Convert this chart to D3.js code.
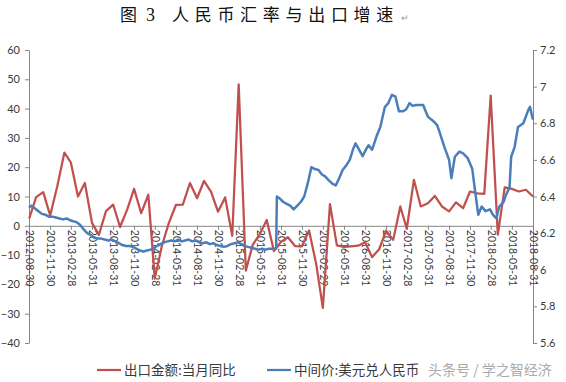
<!DOCTYPE html>
<html><head><meta charset="utf-8">
<script src="https://cdn.jsdelivr.net/npm/d3@7"></script>
<style>
html,body{margin:0;padding:0;background:#fff;}
svg{display:block;}
</style></head>
<body>
<svg id="c" width="566" height="382"></svg>
<script>
// ---------- DATA ----------
const titleParts = ["图", "3", "人民币汇率与出口增速"];
const seriesNames = ["出口金额:当月同比", "中间价:美元兑人民币"];
const watermark = "头条号 / 学之智经济";

// monthly export YoY (%), Aug 2012 .. Aug 2018 (month ends)
const exportStart = "2012-08";
const exportYoY = [
  2.5, 9.8, 11.5, 3.5, 13.5,
  25.0, 21.6, 10.0, 14.6, 1.0, -3.1, 5.0, 7.2, -0.4, 5.5, 12.6, 4.3,
  10.6, -18.0, -6.8, 0.9, 7.1, 7.2, 14.6, 9.4, 15.3, 11.6, 4.8, 9.7,
  -3.4, 48.3, -15.3, -6.5, -2.8, 2.0, -8.6, -5.5, -3.9, -6.9, -7.0, -1.6,
  -13.0, -28.0, 7.4, -6.7, -7.2, -7.0, -6.8, -5.6, -10.7, -8.0, -1.7, -4.8,
  6.6, -1.0, 15.7, 6.6, 7.7, 10.2, 6.6, 4.9, 8.0, 6.0, 11.7, 11.1,
  10.9, 44.4, -3.0, 13.1, 12.6, 11.7, 12.3, 10.0
];

// USD/CNY central parity
const fxDates = [
  "2012-08-30","2012-09-10","2012-09-25","2012-10-10","2012-10-25","2012-11-10","2012-11-25","2012-12-10","2012-12-25",
  "2013-01-10","2013-01-25","2013-02-10","2013-02-25","2013-03-10","2013-03-25","2013-04-10","2013-04-25","2013-05-10","2013-05-25",
  "2013-06-10","2013-06-25","2013-07-10","2013-07-25","2013-08-10","2013-08-25","2013-09-10","2013-09-25","2013-10-10","2013-10-25",
  "2013-11-10","2013-11-25","2013-12-10","2013-12-25",
  "2014-01-10","2014-01-25","2014-02-10","2014-02-25","2014-03-10","2014-03-25","2014-04-10","2014-04-25","2014-05-10","2014-05-25",
  "2014-06-10","2014-06-25","2014-07-10","2014-07-25","2014-08-10","2014-08-25","2014-09-10","2014-09-25","2014-10-10","2014-10-25",
  "2014-11-10","2014-11-25","2014-12-10","2014-12-25",
  "2015-01-10","2015-01-25","2015-02-10","2015-02-25","2015-03-10","2015-03-25","2015-04-10","2015-04-25","2015-05-10","2015-05-25",
  "2015-06-10","2015-06-25","2015-07-10","2015-07-25","2015-08-10","2015-08-13","2015-08-25","2015-09-10","2015-09-25","2015-10-10",
  "2015-10-25","2015-11-10","2015-11-25","2015-12-10","2015-12-25",
  "2016-01-10","2016-01-25","2016-02-10","2016-02-25","2016-03-10","2016-03-25","2016-04-10","2016-04-25","2016-05-10","2016-05-25",
  "2016-06-10","2016-06-25","2016-07-10","2016-07-20","2016-08-05","2016-08-20","2016-09-05","2016-09-15","2016-09-30","2016-10-20",
  "2016-11-05","2016-11-25","2016-12-10","2016-12-25",
  "2017-01-10","2017-01-25","2017-02-10","2017-02-25","2017-03-12","2017-03-25","2017-04-10","2017-04-25","2017-05-10","2017-05-31",
  "2017-06-15","2017-06-25","2017-07-10","2017-07-20","2017-08-10","2017-08-31","2017-09-10","2017-09-25","2017-10-15","2017-10-31",
  "2017-11-20","2017-12-10","2017-12-20",
  "2018-01-05","2018-01-20","2018-02-05","2018-02-25","2018-03-10","2018-03-25","2018-04-06","2018-04-25","2018-05-06","2018-05-21",
  "2018-05-28","2018-06-12","2018-06-27","2018-07-20","2018-08-10","2018-08-18","2018-08-25","2018-08-31"
];
const fxValues = [
  6.34,6.35,6.335,6.32,6.305,6.30,6.29,6.29,6.285,
  6.28,6.275,6.28,6.27,6.265,6.26,6.245,6.22,6.20,6.19,
  6.175,6.17,6.17,6.165,6.16,6.165,6.155,6.145,6.135,6.13,
  6.13,6.125,6.115,6.105,
  6.10,6.105,6.11,6.12,6.13,6.14,6.15,6.155,6.16,6.155,
  6.165,6.155,6.16,6.165,6.155,6.16,6.15,6.145,6.15,6.14,
  6.145,6.135,6.13,6.125,
  6.13,6.14,6.145,6.15,6.14,6.13,6.125,6.12,6.115,6.11,
  6.115,6.11,6.115,6.115,6.116,6.40,6.39,6.37,6.36,6.35,
  6.33,6.35,6.37,6.40,6.47,
  6.56,6.55,6.545,6.52,6.51,6.49,6.47,6.46,6.50,6.545,
  6.57,6.60,6.66,6.69,6.655,6.62,6.66,6.68,6.655,6.73,
  6.78,6.89,6.91,6.955,
  6.945,6.865,6.865,6.875,6.91,6.895,6.90,6.90,6.90,6.836,
  6.82,6.81,6.79,6.754,6.672,6.60,6.50,6.617,6.645,6.636,
  6.61,6.55,6.45,
  6.30,6.345,6.32,6.33,6.30,6.281,6.345,6.37,6.41,6.45,
  6.617,6.67,6.78,6.80,6.87,6.89,6.85,6.82
];

const leftTicks = [-40,-30,-20,-10,0,10,20,30,40,50,60];
const rightTicks = [5.6,5.8,6.0,6.2,6.4,6.6,6.8,7.0,7.2];
const rightTickLabels = ["5.6","5.8","6","6.2","6.4","6.6","6.8","7","7.2"];
const xTickLabels = [
  "2012-08-30","2012-11-30","2013-02-28","2013-05-31","2013-08-31","2013-11-30","2014-02-28","2014-05-31",
  "2014-08-31","2014-11-30","2015-02-28","2015-05-31","2015-08-31","2015-11-30","2016-02-29","2016-05-31",
  "2016-08-31","2016-11-30","2017-02-28","2017-05-31","2017-08-31","2017-11-30","2018-02-28","2018-05-31","2018-08-31"
];

// ---------- CHART ----------
const parse = d3.utcParse("%Y-%m-%d");
const svg = d3.select("#c");
const font = "Lato, 'Open Sans', sans-serif";
const cjk = "'Noto Sans CJK SC', sans-serif";
const axisColor = "#868686";
const textColor = "#3a3a3a";

const x = d3.scaleUtc()
  .domain([parse(xTickLabels[0]), parse(xTickLabels[xTickLabels.length-1])])
  .range([29, 533]);
const yL = d3.scaleLinear().domain([-40, 60]).range([343, 50]);
const yR = d3.scaleLinear().domain([5.6, 7.2]).range([343, 50]);

// export series dates: month ends
const m0 = d3.utcParse("%Y-%m")(exportStart);
const exportData = exportYoY.map((v, i) => ({
  date: d3.utcDay.offset(d3.utcMonth.offset(m0, i + 1), -1), v
}));
const fxData = fxDates.map((d, i) => ({date: parse(d), v: fxValues[i]}));

// title
const title = svg.append("g")
  .attr("font-family", cjk).attr("font-size", 17).attr("fill", "#111");
title.append("text").attr("x", 120).attr("y", 21).text(titleParts[0]);
title.append("text").attr("x", 146).attr("y", 21).attr("font-family", "'Liberation Serif', serif").attr("font-size", 18).text(titleParts[1]);
title.append("text").attr("x", 172).attr("y", 21).attr("letter-spacing", "5.7px").text(titleParts[2]);
title.append("text").attr("x", 401).attr("y", 21).attr("font-size", 9).attr("fill", "#999").text("↵");

// axes
function styleAxis(g) {
  g.selectAll("path.domain").attr("stroke", axisColor);
  g.selectAll(".tick line").attr("stroke", axisColor);
  g.selectAll(".tick text").attr("fill", textColor).attr("font-family", font).attr("font-size", 11);
}

const gL = svg.append("g").attr("transform", "translate(29,0)")
  .call(d3.axisLeft(yL).tickValues(leftTicks).tickSize(4).tickSizeOuter(0).tickPadding(5));
styleAxis(gL);

const gR = svg.append("g").attr("transform", "translate(533,0)")
  .call(d3.axisRight(yR).tickValues(rightTicks).tickSize(4).tickSizeOuter(0).tickPadding(3)
    .tickFormat((d, i) => rightTickLabels[i]));
styleAxis(gR);

const gX = svg.append("g").attr("transform", `translate(0,${yL(0)})`)
  .call(d3.axisBottom(x).tickValues(xTickLabels.map(parse)).tickSize(4).tickSizeOuter(0)
    .tickFormat((d, i) => xTickLabels[i]));
styleAxis(gX);
gX.selectAll(".tick text")
  .attr("text-anchor", "start")
  .attr("transform", "rotate(90)")
  .attr("x", 4).attr("y", 0).attr("dy", "0.35em")
  .attr("font-size", 10.5);

// lines
const lineL = d3.line().x(d => x(d.date)).y(d => yL(d.v));
const lineR = d3.line().x(d => x(d.date)).y(d => yR(d.v));

svg.append("path").datum(exportData)
  .attr("d", lineL).attr("fill", "none").attr("stroke", "#C0504D")
  .attr("stroke-width", 2.25).attr("stroke-linejoin", "round");
svg.append("path").datum(fxData)
  .attr("d", lineR).attr("fill", "none").attr("stroke", "#4A7EBB")
  .attr("stroke-width", 2.5).attr("stroke-linejoin", "round");

// legend
const leg = svg.append("g").attr("font-family", cjk).attr("font-size", 13.5).attr("fill", textColor);
const legItems = [
  {x: 97, color: "#C0504D", name: seriesNames[0]},
  {x: 267, color: "#4A7EBB", name: seriesNames[1]}
];
legItems.forEach(it => {
  leg.append("line").attr("x1", it.x).attr("x2", it.x + 24).attr("y1", 370).attr("y2", 370)
    .attr("stroke", it.color).attr("stroke-width", 2.25);
  leg.append("text").attr("x", it.x + 27).attr("y", 375).text(it.name);
});
svg.append("text").attr("x", 428).attr("y", 375).attr("font-family", cjk)
  .attr("font-size", 14).attr("fill", "#aaaaaa").text(watermark);
</script>
</body></html>
